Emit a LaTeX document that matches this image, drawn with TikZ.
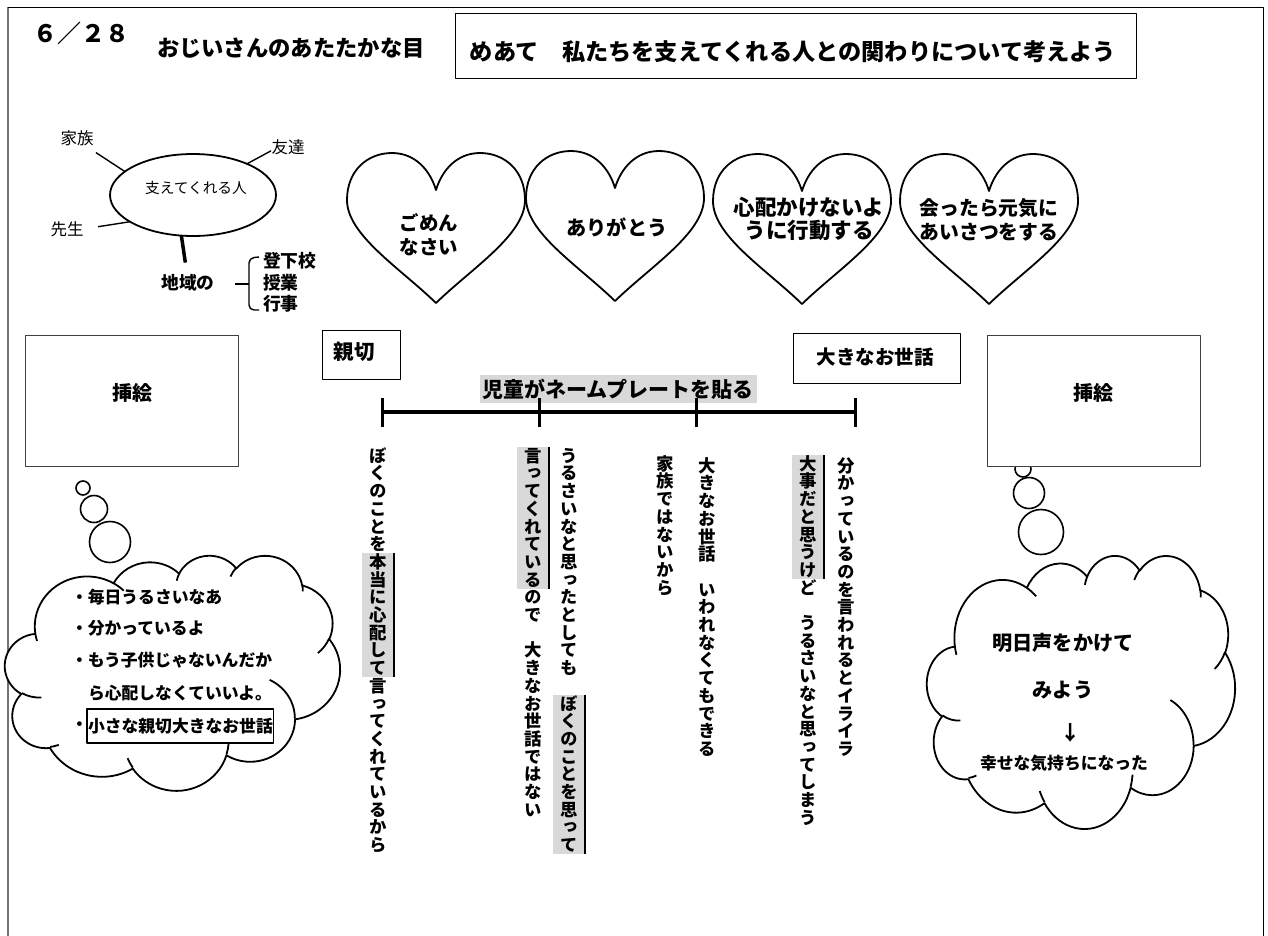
\documentclass[tikz,border=0pt]{standalone}
\usepackage{fontspec}
\setmainfont{Noto Sans CJK JP}
\newfontfamily\tatefont[RawFeature=+vert]{Noto Sans CJK JP}
\usetikzlibrary{shapes.geometric}
\definecolor{hlgray}{HTML}{D9D9D9}
\makeatletter
\newcommand\kuu{}
\newcommand\tate[1]{\vbox{\offinterlineskip\@tfor\tt@c:=#1\do{\hbox to 17.7pt{\vrule height 15.2pt depth 2.5pt width 0pt\hss\tt@c\hss}}}}
\makeatother
\newcommand\heartat[2]{\draw[heart,shift={(#1,#2)}] (0,151) .. controls (-36,116) and (-89,83) .. (-89,48) .. controls (-89,18) and (-68,1) .. (-44,1) .. controls (-21,1) and (-6,18) .. (0,38) .. controls (6,18) and (21,1) .. (44,1) .. controls (68,1) and (89,18) .. (89,48) .. controls (89,83) and (36,116) .. (0,151) -- cycle;}
% Word-style cloud: #1,#2 top-left corner, #3,#4 x/y scale (box size / 432)
\newcommand\wordcloud[4]{%
\begin{scope}[shift={(#1,#2)},x=#3pt,y=-#4pt]
\filldraw[cloudline,fill=white] (39.00,143.70)
 arc[start angle=-187.746,end angle=-59.637,x radius=67.53,y radius=91.90]
 arc[start angle=-152.02,end angle=-45.43,x radius=53.33,y radius=72.67]
 arc[start angle=-153.49,end angle=-37.32,x radius=43.65,y radius=59.45]
 arc[start angle=-139.69,end angle=-10.21,x radius=48.57,y radius=65.95]
 arc[start angle=-74.77,end angle=23.21,x radius=53.33,y radius=72.73]
 arc[start angle=-37.52,end angle=81.86,x radius=67.75,y radius=92.20]
 arc[start angle=0.46,end angle=121.98,x radius=57.85,y radius=78.67]
 arc[start angle=16.84,end angle=146.25,x radius=67.52,y radius=92.15]
 arc[start angle=58.98,end angle=150.20,x radius=77.20,y radius=105.43]
 arc[start angle=-276.69,end angle=-136.86,x radius=43.60,y radius=59.18]
 arc[start angle=-239.64,end angle=-95.89,x radius=43.45,y radius=59.45]
 -- cycle;
\draw[cloudline] (46.93,261.77) arc[start angle=85.55,end angle=120.36,x radius=43.45,y radius=59.45];
\draw[cloudline] (69.28,348.99) arc[start angle=68.24,end angle=83.31,x radius=43.60,y radius=59.18];
\draw[cloudline] (164.78,390.90) arc[start angle=146.25,end angle=158.47,x radius=67.52,y radius=92.15];
\draw[cloudline] (288.27,347.51) arc[start angle=4.74,end angle=16.84,x radius=67.52,y radius=92.15];
\draw[cloudline] (341.29,229.54) arc[start angle=-64.03,end angle=0.46,x radius=57.85,y radius=78.67];
\draw[cloudline] (417.98,153.54) arc[start angle=23.21,end angle=49.65,x radius=53.33,y radius=72.73];
\draw[cloudline] (383.24,54.26) arc[start angle=-10.21,end angle=0.82,x radius=48.57,y radius=65.95];
\draw[cloudline] (290.78,39.52) arc[start angle=-156.29,end angle=-139.69,x radius=48.57,y radius=65.95];
\draw[cloudline] (221.41,47.20) arc[start angle=-167.73,end angle=-153.49,x radius=43.65,y radius=59.45];
\draw[cloudline] (140.00,51.92) arc[start angle=-59.637,end angle=-45.71,x radius=67.53,y radius=91.90];
\draw[cloudline] (41.27,157.89) arc[start angle=163.19,end angle=172.254,x radius=67.53,y radius=91.90];
\end{scope}}
\begin{document}
\begin{tikzpicture}[x=1pt,y=-1pt,line join=round,
  every node/.style={inner sep=0pt,outer sep=0pt},
  bx/.style={draw,line width=0.9pt,fill=white},
  gbx/.style={draw=black!75,line width=1pt,fill=white},
  heart/.style={draw,line width=1.8pt},
  bubble/.style={draw,circle,line width=1.6pt,fill=white},
  cloudline/.style={draw,line width=1.8pt},
  jb/.style={font=\bfseries\fontsize{#1}{#1}\selectfont},
  jr/.style={font=\fontsize{#1}{#1}\selectfont},
  col/.style={font=\tatefont\bfseries\fontsize{17.4}{17.7}\selectfont,anchor=north},
  hl/.style={fill=hlgray,minimum width=32pt},
  hlbar/.style={line width=1.8pt},
  stroke/.style={line width=1.4pt}]
\useasboundingbox (0,0) rectangle (1268,935);
% frame
\draw[black!55,line width=1.6pt] (8,936) -- (8,7);
\draw[line width=0.9pt] (8,7) -- (1263,7) -- (1263,936);
% header
\node[jb=24,anchor=west] (date) at (33,33) {６／２８};
\node[jb=22.3,anchor=west] (sub) at (157,48) {おじいさんのあたたかな目};
\node[bx,minimum width=681,minimum height=65] (mbox) at (795.5,45.5) {};
\node[jb=23.2] (mt) at (793,52) {めあて\hspace{1em}私たちを支えてくれる人との関わりについて考えよう};
% support map
\node[draw,ellipse,line width=1.8pt,minimum width=166,minimum height=82] (sup) at (193,195) {};
\node[jr=14.7] (supt) at (196,188) {支えてくれる人};
\node[jr=16.5] (kazoku) at (77,138) {家族};
\node[jr=16.5] (tomo) at (288,147) {友達};
\node[jr=16.5] (sensei) at (67,229) {先生};
\draw[stroke] (sup.161) -- ++(-29,-19);
\draw[stroke] (sup.30) -- ++(24,-13);
\draw[stroke] (sup.203) -- ++(-32,5);
\draw[line width=3.5pt] (sup.254) -- ++(4,27);
\node[jb=17.7] (chiiki) at (188,283) {地域の};
\draw[stroke] (235,284) -- (249,284);
\draw[stroke,rounded corners=5pt] (259,257) -- (249,258) -- (249,310) -- (259,310);
\node[jb=17.8,anchor=west] (i1) at (263,261) {登下校};
\node[jb=17.8,anchor=west] (i2) at (263,283) {授業};
\node[jb=17.8,anchor=west] (i3) at (263,304) {行事};
% hearts
\heartat{436}{152}
\heartat{615}{150}
\heartat{802}{153}
\heartat{989}{153}
\node[align=center,font=\bfseries\fontsize{19.4}{24}\selectfont] (h1) at (429,235) {ごめん\\なさい};
\node[jb=20.2] (h2) at (617,227) {ありがとう};
\node[align=center,font=\bfseries\fontsize{21.5}{23}\selectfont] (h3) at (809,219) {心配かけないよ\\うに行動する};
\node[align=center,font=\bfseries\fontsize{19.8}{24}\selectfont] (h4) at (989,220) {会ったら元気に\\あいさつをする};
% thought bubbles
\node[bubble,minimum size=14] (lb1) at (83,488) {};
\node[bubble,minimum size=27] (lb2) at (94,509) {};
\node[bubble,minimum size=41] (lb3) at (110,542) {};
\node[bubble,minimum size=16] (rb1) at (1023,469) {};
\node[bubble,minimum size=31] (rb2) at (1029,493) {};
\node[bubble,minimum size=45] (rb3) at (1041,532) {};
% picture boxes
\node[gbx,minimum width=213,minimum height=131] (lpic) at (131.5,400.5) {};
\node[jb=20] (lpict) at (132,393) {挿絵};
\node[gbx,minimum width=213,minimum height=131] (rpic) at (1093.5,400.5) {};
\node[jb=20] (rpict) at (1093,393) {挿絵};
% clouds
\wordcloud{5}{555}{0.775463}{0.543981}
\wordcloud{927}{555}{0.712963}{0.631944}
\node[jb=16.8,anchor=west] (l1) at (71,597) {・毎日うるさいなあ};
\node[jb=16.8,anchor=west] (l2) at (71,628) {・分かっているよ};
\node[jb=16.8,anchor=west] (l3) at (71,660) {・もう子供じゃないんだか};
\node[jb=16.8,anchor=west] (l4) at (88,693) {ら心配しなくていいよ。};
\node[jb=16.8,anchor=west] (l5) at (71,726) {・};
\node[jb=16.8,anchor=west,draw,line width=1.3pt,inner xsep=1pt,minimum height=34] (l5b) at (87,726) {小さな親切大きなお世話};
\node[jb=20.2] (r1) at (1063,643) {明日声をかけて};
\node[jb=20.2] (r2) at (1063,690) {みよう};
\node[jb=20.2] (r3) at (1071,733) {↓};
\node[jb=16.8] (r4) at (1064,763) {幸せな気持ちになった};
% scale
\node[bx,minimum width=78,minimum height=49] (shinbox) at (361,354.5) {};
\node[jb=20.5] (shin) at (354,352) {親切};
\node[bx,minimum width=167,minimum height=50] (oobox) at (876.5,358) {};
\node[jb=19.5] (oo) at (875,357) {大きなお世話};
\node[jb=21,fill=hlgray,minimum width=277,minimum height=28] (plate) at (618,389) {児童がネームプレートを貼る};
\coordinate (t1) at (382,412);
\coordinate (t2) at (539,412);
\coordinate (t3) at (696,412);
\coordinate (t4) at (855,412);
\draw[line width=4pt] (t1) -- (t4);
\foreach \t in {t1,t2,t3,t4}{\draw[line width=3pt] ([yshift=14pt]\t) -- ([yshift=-15pt]\t);}
% vertical comments
\node[col] (a1) at (378,447) {\tate{ぼくのことを}};
\node[col,hl] (a2) at (a1.south) {\tate{本当に心配して}};
\node[col] (a3) at (a2.south) {\tate{言ってくれているから}};
\draw[hlbar] (a2.north east) -- (a2.south east);
\node[col,hl] (b1) at (533,447) {\tate{言ってくれている}};
\node[col] (b2) at (b1.south) {\tate{ので\kuu 大きなお世話ではない}};
\draw[hlbar] (b1.north east) -- (b1.south east);
\node[col] (c1) at (569,447) {\tate{うるさいなと思ったとしても\kuu}};
\node[col,hl] (c2) at (c1.south) {\tate{ぼくのことを思って}};
\draw[hlbar] (c2.north east) -- (c2.south east);
\node[col] (d1) at (707,457) {\tate{大きなお世話\kuu いわれなくてもできる}};
\node[col] (e1) at (665,455) {\tate{家族ではないから}};
\node[col] (f1) at (846,457) {\tate{分かっているのを言われるとイライラ}};
\node[col,hl] (g1) at (808,455) {\tate{大事だと思うけ}};
\node[col] (g2) at (g1.south) {\tate{ど\kuu うるさいなと思ってしまう}};
\draw[hlbar] (g1.north east) -- (g1.south east);
\end{tikzpicture}
\end{document}
